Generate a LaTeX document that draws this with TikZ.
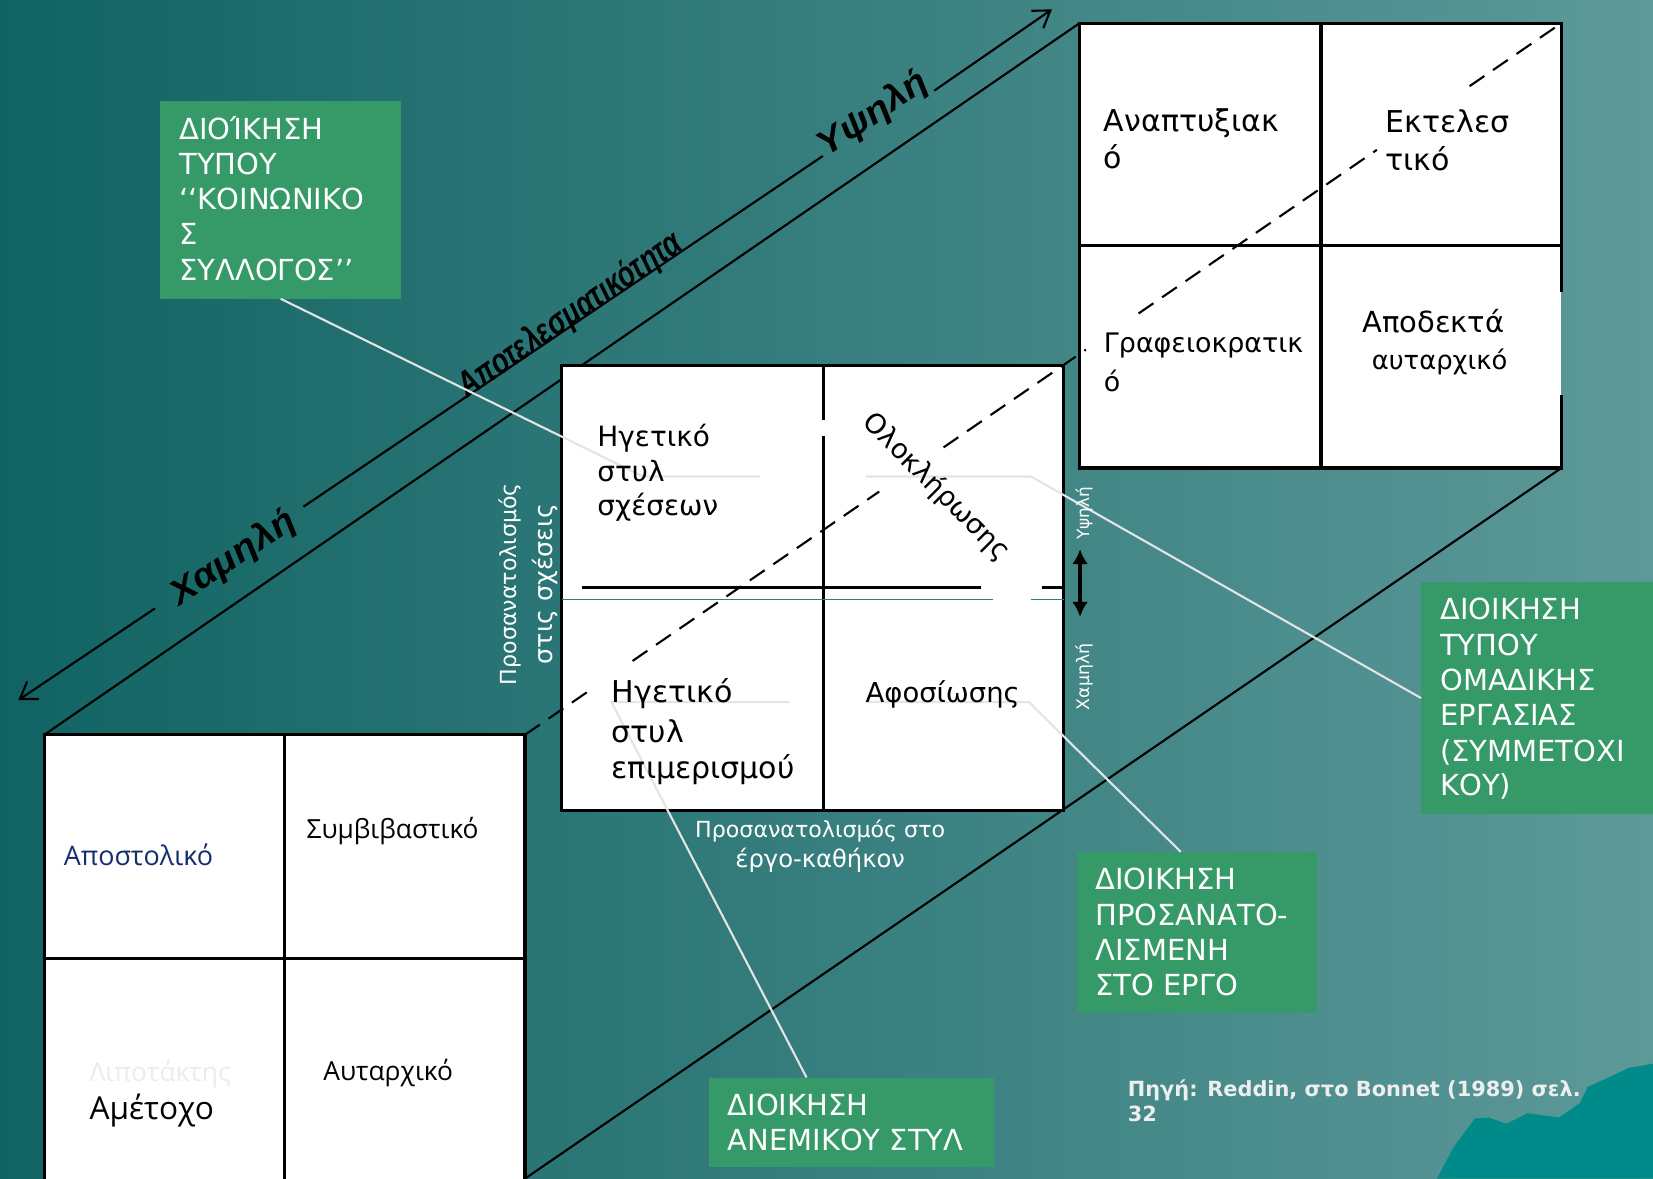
\documentclass[tikz,border=0pt]{standalone}
\usepackage{fontspec}
\setmainfont{DejaVu Sans}
\newfontfamily\axisfont{Liberation Sans}
\newfontfamily\osfont{Open Sans}
\usetikzlibrary{arrows.meta,calc}
\definecolor{bgL}{RGB}{17,99,99}
\definecolor{bgR}{RGB}{93,153,153}
\definecolor{boxgreen}{RGB}{53,154,104}
\definecolor{leadergray}{RGB}{228,228,228}
\definecolor{thinteal}{RGB}{46,125,125}
\definecolor{wavecol}{RGB}{0,138,138}
\definecolor{apost}{RGB}{20,45,110}
\definecolor{ghost}{RGB}{236,236,236}
\definecolor{srcwhite}{RGB}{238,238,238}
\newcommand\myfs[1]{\fontsize{#1}{#1}\selectfont}
\begin{document}
\begin{tikzpicture}[x=1pt,y=-1pt,
  boxframe/.style={draw=black,line width=3pt},
  cubeedge/.style={draw=black,line width=2pt},
  hiddenedge/.style={draw=black,line width=2pt,dash pattern=on 17pt off 10pt},
  leader/.style={draw=leadergray,line width=2pt},
  greenbox/.style={fill=boxgreen,draw=none,inner sep=0pt,anchor=north west},
  gtxt/.style={text=white,font=\myfs{27.5},inner sep=0pt,anchor=base west},
  btxt/.style={text=black,inner sep=0pt,anchor=base west},
  wtxt/.style={text=white,inner sep=0pt},
  axtxt/.style={text=black,inner sep=0pt,anchor=base west,rotate=34},
  axisline/.style={draw=black,line width=2pt}
]
\useasboundingbox (0,0) rectangle (1568,1118);
\clip (0,0) rectangle (1568,1118);
% background
\shade[left color=bgL,right color=bgR] (0,0) rectangle (1568,1118);
\fill[wavecol] (1363,1118) -- (1379,1088) -- (1399,1061) -- (1412,1060) -- (1429,1066) -- (1449,1056) -- (1479,1060) -- (1499,1046) -- (1506,1031) -- (1526,1022) -- (1545,1013) -- (1568,1009) -- (1568,1118) -- cycle;

% cube corners
\coordinate (ftl) at (42,697);
\coordinate (ftr) at (498,697);
\coordinate (fbr) at (498,1118);
\coordinate (btl) at (1024,22);
\coordinate (btr) at (1481,22);
\coordinate (bbr) at (1481,444);
\coordinate (bbl) at (1024,444);

% solid cube edges
\draw[cubeedge] (ftl) -- (btl);
\draw[cubeedge] (fbr) -- (bbr);

% back box
\fill[white] (btl) rectangle (bbr);
\draw[boxframe] (1481,277) -- (btr) -- (btl) -- (bbl) -- (bbr) -- (1481,375);
\draw[boxframe] (1253,22) -- (1253,444);
\draw[boxframe] (1024,233) -- (1481,233);

% middle box
\coordinate (mtl) at (533,347);
\coordinate (mbr) at (1009,769);
\fill[white] (mtl) rectangle (mbr);
\draw[boxframe] (mtl) rectangle (mbr);
\draw[draw=white,line width=4pt] (781,398) -- (781,414);
\draw[boxframe] (781,347) -- (781,398);
\draw[boxframe] (781,414) -- (781,769);
\draw[draw=black,line width=3pt] (552,557) -- (931,557);
\draw[draw=black,line width=3pt] (988,557) -- (1009,557);
\draw[draw=thinteal,line width=1pt] (533,569) -- (942,569);
\draw[draw=thinteal,line width=1pt] (978,569) -- (1009,569);

% front box
\fill[white] (ftl) rectangle (498,1130);
\draw[boxframe] (ftl) rectangle (498,1130);
\draw[boxframe] (270,697) -- (270,1130);
\draw[boxframe] (42,909) -- (498,909);

% effectiveness axis
\coordinate (ax0) at (17.4,664.1);
\coordinate (ax1) at (147,577.1);
\coordinate (ax2) at (287.8,480.7);
\coordinate (ax3) at (780.5,148);
\coordinate (ax4) at (886.2,86);
\coordinate (ax5) at (997.8,8.9);
\draw[axisline,{Straight Barb[length=15pt,width=20pt]}-] (ax0) -- (ax1);
\draw[axisline] (ax2) -- (ax3);
\draw[axisline,-{Straight Barb[length=15pt,width=20pt]}] (ax4) -- (ax5);
\node[axtxt,font=\axisfont\bfseries\itshape\myfs{33},xscale=1.12] (axlow) at (170,575) {Χαμηλή};
\node[axtxt,font=\axisfont\bfseries\itshape\myfs{34},xscale=0.76,rotate=0.5] (axmid) at (443,378.5) {Αποτελεσματικότητα};
\node[axtxt,font=\axisfont\bfseries\itshape\myfs{33},xscale=1.12] (axhigh) at (784,149.5) {Υψηλή};

% green boxes
\node[greenbox,minimum width=228pt,minimum height=187pt] (g1) at (152,96) {};
\node[greenbox,minimum width=230pt,minimum height=220pt] (g2) at (1348,552) {};
\node[greenbox,minimum width=228pt,minimum height=153pt] (g3) at (1021,808) {};
\node[greenbox,minimum width=271pt,minimum height=85pt] (g4) at (672,1022) {};

% leader lines
\coordinate (l1a) at (610,452);
\coordinate (l1b) at (721,452);
\draw[leader] (g1.south) -- (l1a) -- (l1b);
\coordinate (l2a) at (821,452);
\coordinate (l2b) at (978,452);
\draw[leader] (l2a) -- (l2b) -- (g2.west);
\coordinate (l3a) at (749,666);
\coordinate (l3b) at (580,666);
\coordinate (l3c) at (765,1022);
\draw[leader] (l3a) -- (l3b) -- (l3c);
\coordinate (l4a) at (821,666);
\coordinate (l4b) at (976,666);
\coordinate (l4c) at (1120,808);
\draw[leader] (l4a) -- (l4b) -- (l4c);

% hidden (dashed) cube edge
\draw[hiddenedge] (ftr) -- ($(ftr)!0.0631!(btr)$);
\draw[hiddenedge] ($(ftr)!0.1038!(btr)$) -- ($(ftr)!0.3418!(btr)$);
\draw[hiddenedge] ($(ftr)!0.4039!(btr)$) -- ($(ftr)!0.5412!(btr)$);
\draw[hiddenedge] ($(ftr)!0.5921!(btr)$) -- ($(ftr)!0.822!(btr)$);
\draw[hiddenedge] ($(ftr)!0.9115!(btr)$) -- (btr);

% vertical double arrow
\coordinate (va1) at (1024.5,521);
\coordinate (va2) at (1024.5,585);
\draw[draw=black,line width=3pt,{Latex[length=14pt,width=15pt]}-{Latex[length=14pt,width=15pt]}] (va1) -- (va2);

% back box texts
\node[btxt,font=\myfs{28.5}] (t1a) at (1047,125) {Αναπτυξιακ};
\node[btxt,font=\myfs{28.5}] (t1b) at (1047,160) {ό};
\node[btxt,font=\myfs{28.5}] (t2a) at (1314,126) {Εκτελεσ};
\node[btxt,font=\myfs{28.5}] (t2b) at (1314,162) {τικό};
\node[btxt,font=\myfs{25.5}] (t3a) at (1047,334) {Γραφειοκρατικ};
\node[btxt,font=\myfs{25.5}] (t3b) at (1047,371) {ό};
\node[btxt,font=\myfs{27.5}] (t4a) at (1292,315) {Αποδεκτά};
\node[btxt,font=\myfs{24.5}] (t4b) at (1301,350.5) {αυταρχικό};

% middle box texts
\node[btxt,font=\myfs{26.5}] (m1a) at (566.5,424) {Ηγετικό};
\node[btxt,font=\myfs{26.5}] (m1b) at (566.5,457) {στυλ};
\node[btxt,font=\myfs{26.5}] (m1c) at (566.5,489) {σχέσεων};
\node[text=black,inner sep=0pt,font=\myfs{26},rotate=-45] (m2) at (888,462) {Ολοκλήρωσης};
\node[btxt,font=\myfs{28.5}] (m3a) at (580,666) {Ηγετικό};
\node[btxt,font=\myfs{28.5}] (m3b) at (580,704) {στυλ};
\node[btxt,font=\myfs{28.5}] (m3c) at (580,738.5) {επιμερισμού};
\node[btxt,font=\myfs{26}] (m4) at (821,666) {Αφοσίωσης};

% front box texts
\node[btxt,text=apost,font=\osfont\myfs{25.5}] (f1) at (60.3,820.7) {Αποστολικό};
\node[btxt,font=\osfont\myfs{25}] (f2) at (290.6,795.4) {Συμβιβαστικό};
\node[btxt,text=ghost,font=\osfont\myfs{25}] (f3) at (84.7,1026) {Λιποτάκτης};
\node[btxt,font=\osfont\myfs{30}] (f4) at (84.7,1062) {Αμέτοχο};
\node[btxt,font=\osfont\myfs{25}] (f5) at (306.6,1025) {Αυταρχικό};

% green box texts
\node[gtxt] (g1a) at (170,132) {ΔΙΟΊΚΗΣΗ};
\node[gtxt] (g1b) at (170,166) {ΤΥΠΟΥ};
\node[gtxt] (g1c) at (170,199) {‘‘ΚΟΙΝΩΝΙΚΟ};
\node[gtxt] (g1d) at (170,232) {Σ};
\node[gtxt] (g1e) at (170,266) {ΣΥΛΛΟΓΟΣ’’};
\node[gtxt] (g2a) at (1366,588) {ΔΙΟΙΚΗΣΗ};
\node[gtxt] (g2b) at (1366,622) {ΤΥΠΟΥ};
\node[gtxt] (g2c) at (1366,655) {ΟΜΑΔΙΚΗΣ};
\node[gtxt] (g2d) at (1366,688) {ΕΡΓΑΣΙΑΣ};
\node[gtxt] (g2e) at (1366,722) {(ΣΥΜΜΕΤΟΧΙ};
\node[gtxt] (g2f) at (1366,755) {ΚΟΥ)};
\node[gtxt] (g3a) at (1039,844) {ΔΙΟΙΚΗΣΗ};
\node[gtxt] (g3b) at (1039,878) {ΠΡΟΣΑΝΑΤΟ-};
\node[gtxt] (g3c) at (1039,911) {ΛΙΣΜΕΝΗ};
\node[gtxt] (g3d) at (1039,944) {ΣΤΟ ΕΡΓΟ};
\node[gtxt] (g4a) at (690,1058) {ΔΙΟΙΚΗΣΗ};
\node[gtxt] (g4b) at (690,1091) {ΑΝΕΜΙΚΟΥ ΣΤΥΛ};

% axis labels of the middle plane
\node[wtxt,font=\myfs{21},rotate=90,anchor=base] (vl1) at (490,554) {Προσανατολισμός};
\node[wtxt,font=\myfs{24},rotate=90,anchor=base] (vl2) at (524.5,554) {στις σχέσεις};
\node[wtxt,font=\myfs{21},anchor=base] (hl1) at (778,794) {Προσανατολισμός στο};
\node[wtxt,font=\myfs{23},anchor=base] (hl2) at (778,823) {έργο-καθήκον};
\node[wtxt,font=\myfs{16},rotate=90,anchor=base] (rl1) at (1033,487) {Υψηλή};
\node[wtxt,font=\myfs{16.5},rotate=90,anchor=base] (rl2) at (1033,642) {Χαμηλή};

% source
\node[inner sep=0pt,anchor=base west,text=srcwhite,font=\bfseries\myfs{19.8}] (src1) at (1069.7,1039.8) {Πηγή: Reddin, στο Bonnet (1989) σελ.};
\node[inner sep=0pt,anchor=base west,text=srcwhite,font=\bfseries\myfs{19.8}] (src2) at (1069.7,1064.2) {32};
\end{tikzpicture}
\end{document}
